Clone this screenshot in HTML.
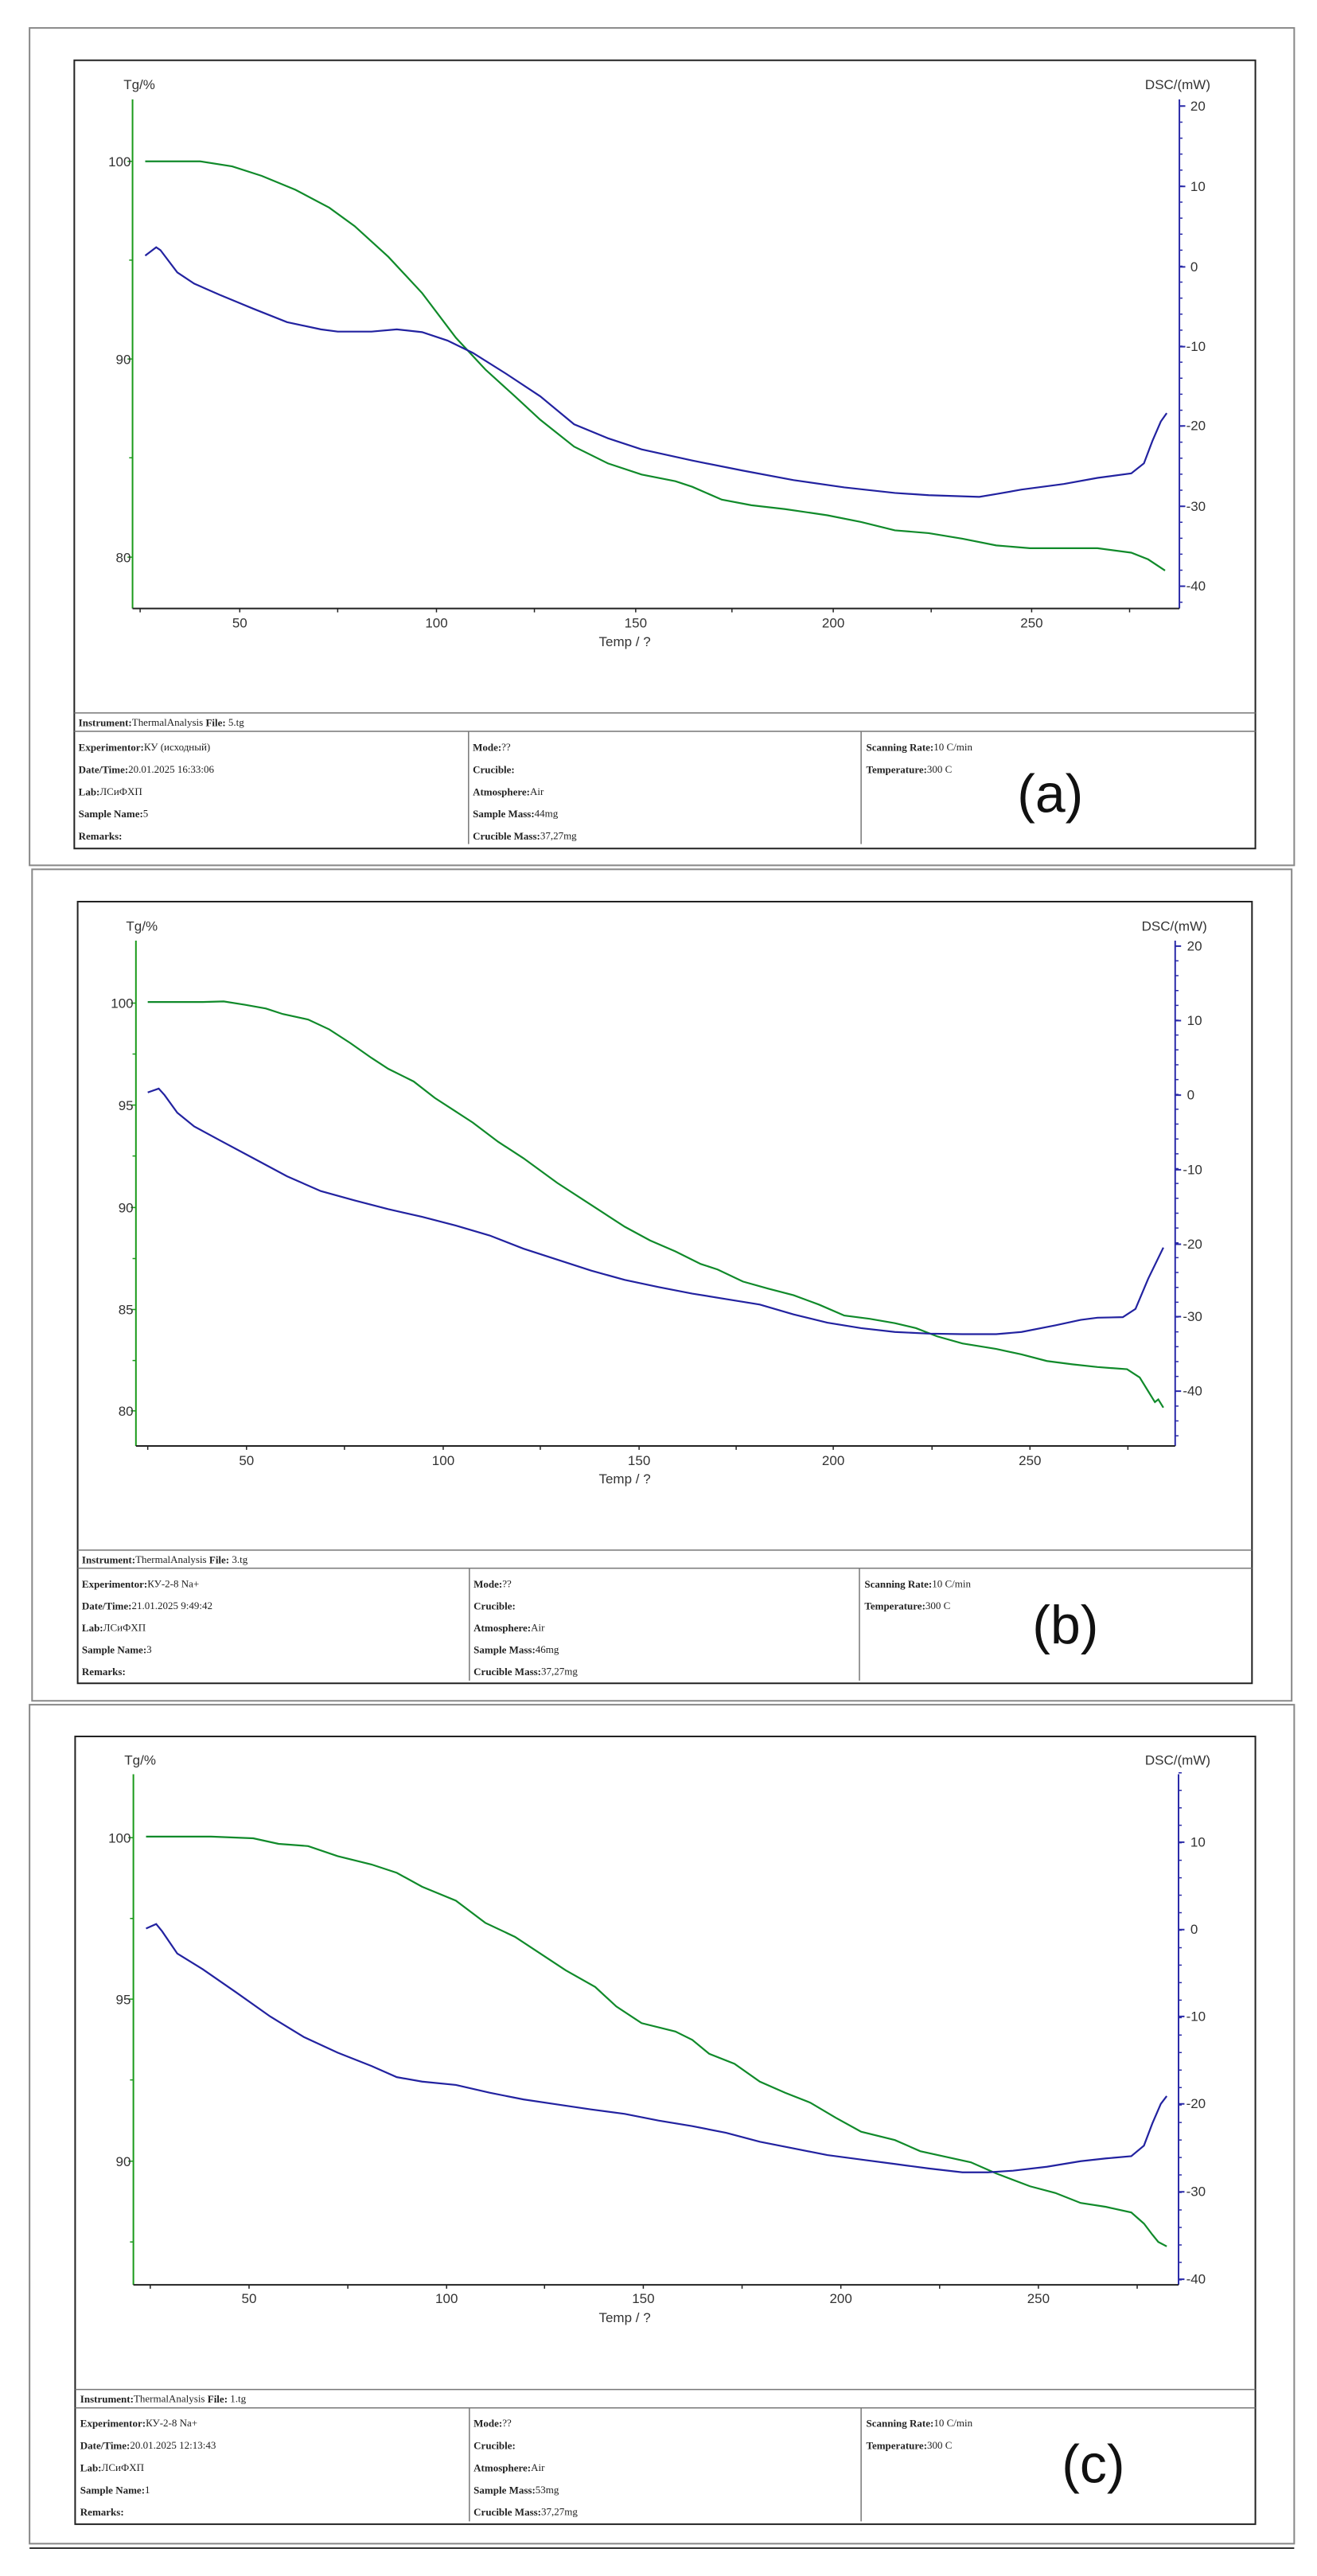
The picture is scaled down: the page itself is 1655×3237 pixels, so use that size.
<!DOCTYPE html>
<html><head><meta charset="utf-8"><style>
html,body{margin:0;padding:0;background:#fff}
svg{display:block}
.t{font-family:"Liberation Sans",sans-serif;font-size:17px;fill:#333}
.s{font-family:"Liberation Serif","Noto Serif CJK SC",serif;font-size:13px;fill:#222}
.s tspan.b{font-weight:bold}
.big{font-family:"Liberation Sans",sans-serif;font-size:68px;fill:#111}
.ns{vector-effect:non-scaling-stroke;fill:none}
</style></head><body>
<svg width="1655" height="3237" viewBox="0 0 1655 3237" xmlns="http://www.w3.org/2000/svg">
<rect width="1655" height="3237" fill="#fff"/>

<!-- ============ PANEL A ============ -->
<g transform="translate(0,0) scale(1.0609,0.7015)">
<rect x="35" y="50" width="1498" height="1500" class="ns" stroke="#888" stroke-width="2"/>
<rect x="88" y="108" width="1399" height="1412" class="ns" stroke="#222" stroke-width="2"/>
<path d="M88 1277H1487M88 1310H1487M555 1310V1512M1020 1310V1512" class="ns" stroke="#777" stroke-width="1.5"/>
<path d="M157 178V1090" class="ns" stroke="#1a9a1a" stroke-width="2"/>
<path d="M1397 178V1090" class="ns" stroke="#2a2aa8" stroke-width="2"/>
<path d="M157 1090H1397" class="ns" stroke="#222" stroke-width="2"/>
<path d="M151 289H157M153 466H157M151 643H157M153 820H157M151 998H157" class="ns" stroke="#1a9a1a" stroke-width="1.5"/>
<path d="M1397 190H1404M1397 334H1404M1397 478H1404M1397 621H1404M1397 763H1404M1397 907H1404M1397 1050H1404" class="ns" stroke="#2a2aa8" stroke-width="2"/>
<path d="M166 1090V1097M284 1090V1097M400 1090V1097M517 1090V1097M633 1090V1097M753 1090V1097M867 1090V1097M987 1090V1097M1103 1090V1097M1222 1090V1097M1338 1090V1097" class="ns" stroke="#222" stroke-width="1.5"/>
<polyline class="ns" stroke="#108a2a" stroke-width="2.2" points="172,289 237,289 275,298 310,315 350,340 390,372 420,405 460,460 500,525 540,605 575,662 610,710 640,752 680,800 720,830 760,850 800,862 820,872 855,895 890,905 930,912 980,923 1020,935 1060,950 1100,955 1140,965 1180,977 1220,982 1300,982 1340,990 1360,1002 1380,1022"/>
<polyline class="ns" stroke="#2222a0" stroke-width="2.2" points="172,458 185,443 190,448 210,488 230,508 260,528 300,553 340,577 380,590 400,594 440,594 470,590 500,595 530,610 560,632 600,670 640,710 680,760 720,785 760,805 820,825 880,843 940,860 1000,873 1060,883 1100,887 1160,890 1180,885 1210,877 1260,867 1300,856 1340,848 1355,830 1365,790 1375,755 1382,740"/>
<g class="t">
<text transform="translate(165,152) scale(0.9426,1.4255)" text-anchor="middle" dominant-baseline="central">Tg/%</text>
<text transform="translate(1395,152) scale(0.9426,1.4255)" text-anchor="middle" dominant-baseline="central">DSC/(mW)</text>
<text transform="translate(155,290) scale(0.9426,1.4255)" text-anchor="end" dominant-baseline="central">100</text>
<text transform="translate(155,644) scale(0.9426,1.4255)" text-anchor="end" dominant-baseline="central">90</text>
<text transform="translate(155,999) scale(0.9426,1.4255)" text-anchor="end" dominant-baseline="central">80</text>
<text transform="translate(1410,190) scale(0.9426,1.4255)" dominant-baseline="central">20</text>
<text transform="translate(1410,334) scale(0.9426,1.4255)" dominant-baseline="central">10</text>
<text transform="translate(1410,478) scale(0.9426,1.4255)" dominant-baseline="central">0</text>
<text transform="translate(1405,621) scale(0.9426,1.4255)" dominant-baseline="central">-10</text>
<text transform="translate(1405,763) scale(0.9426,1.4255)" dominant-baseline="central">-20</text>
<text transform="translate(1405,907) scale(0.9426,1.4255)" dominant-baseline="central">-30</text>
<text transform="translate(1405,1050) scale(0.9426,1.4255)" dominant-baseline="central">-40</text>
<text transform="translate(284,1116) scale(0.9426,1.4255)" text-anchor="middle" dominant-baseline="central">50</text>
<text transform="translate(517,1116) scale(0.9426,1.4255)" text-anchor="middle" dominant-baseline="central">100</text>
<text transform="translate(753,1116) scale(0.9426,1.4255)" text-anchor="middle" dominant-baseline="central">150</text>
<text transform="translate(987,1116) scale(0.9426,1.4255)" text-anchor="middle" dominant-baseline="central">200</text>
<text transform="translate(1222,1116) scale(0.9426,1.4255)" text-anchor="middle" dominant-baseline="central">250</text>
<text transform="translate(740,1150) scale(0.9426,1.4255)" text-anchor="middle" dominant-baseline="central">Temp / ?</text>
</g>
<g class="s">
<text transform="translate(93,1294) scale(0.9426,1.4255)" dominant-baseline="central"><tspan class="b">Instrument:</tspan>ThermalAnalysis   <tspan class="b">File:</tspan>  5.tg</text>
<text transform="translate(93,1338) scale(0.9426,1.4255)" dominant-baseline="central"><tspan class="b">Experimentor:</tspan>КУ (исходный)</text>
<text transform="translate(93,1378) scale(0.9426,1.4255)" dominant-baseline="central"><tspan class="b">Date/Time:</tspan>20.01.2025 16:33:06</text>
<text transform="translate(93,1418) scale(0.9426,1.4255)" dominant-baseline="central"><tspan class="b">Lab:</tspan>ЛСиФХП</text>
<text transform="translate(93,1457) scale(0.9426,1.4255)" dominant-baseline="central"><tspan class="b">Sample Name:</tspan>5</text>
<text transform="translate(93,1497) scale(0.9426,1.4255)" dominant-baseline="central"><tspan class="b">Remarks:</tspan></text>
<text transform="translate(560,1338) scale(0.9426,1.4255)" dominant-baseline="central"><tspan class="b">Mode:</tspan>??</text>
<text transform="translate(560,1378) scale(0.9426,1.4255)" dominant-baseline="central"><tspan class="b">Crucible:</tspan></text>
<text transform="translate(560,1418) scale(0.9426,1.4255)" dominant-baseline="central"><tspan class="b">Atmosphere:</tspan>Air</text>
<text transform="translate(560,1457) scale(0.9426,1.4255)" dominant-baseline="central"><tspan class="b">Sample Mass:</tspan>44mg</text>
<text transform="translate(560,1497) scale(0.9426,1.4255)" dominant-baseline="central"><tspan class="b">Crucible Mass:</tspan>37,27mg</text>
<text transform="translate(1026,1338) scale(0.9426,1.4255)" dominant-baseline="central"><tspan class="b">Scanning Rate:</tspan>10 C/min</text>
<text transform="translate(1026,1378) scale(0.9426,1.4255)" dominant-baseline="central"><tspan class="b">Temperature:</tspan>300 C</text>
</g>
<text class="big" transform="translate(1244,1455) scale(0.9426,1.4255)" text-anchor="middle">(a)</text>
</g>
<line x1="1484" y1="132.6" x2="1484" y2="765" stroke="#2a2aa8" stroke-width="4" stroke-dasharray="1.5 18.61"/>

<!-- ============ PANEL B ============ -->
<g transform="translate(0,1080) scale(1.0609,0.6888)">
<rect x="38" y="18" width="1492" height="1517" class="ns" stroke="#888" stroke-width="2"/>
<rect x="92" y="77" width="1391" height="1426" class="ns" stroke="#222" stroke-width="2"/>
<path d="M92 1260H1483M92 1293H1483M556 1293V1498M1018 1293V1498" class="ns" stroke="#777" stroke-width="1.5"/>
<path d="M161 148V1070" class="ns" stroke="#1a9a1a" stroke-width="2"/>
<path d="M1392 148V1070" class="ns" stroke="#2a2aa8" stroke-width="2"/>
<path d="M161 1070H1392" class="ns" stroke="#222" stroke-width="2"/>
<path d="M155 262H161M155 448H161M155 635H161M155 821H161M155 1006H161M157 355H161M157 541H161M157 728H161M157 914H161" class="ns" stroke="#1a9a1a" stroke-width="1.5"/>
<path d="M1392 158H1399M1392 294H1399M1392 430H1399M1392 566H1399M1392 702H1399M1392 834H1399M1392 970H1399" class="ns" stroke="#2a2aa8" stroke-width="2"/>
<path d="M175 1070V1077M292 1070V1077M408 1070V1077M525 1070V1077M640 1070V1077M757 1070V1077M872 1070V1077M987 1070V1077M1104 1070V1077M1220 1070V1077M1336 1070V1077" class="ns" stroke="#222" stroke-width="1.5"/>
<polyline class="ns" stroke="#108a2a" stroke-width="2.2" points="175,260 240,260 265,259 290,265 315,272 335,282 365,292 390,310 415,335 440,362 460,382 490,405 515,435 540,460 560,480 590,515 620,545 660,590 700,630 740,670 770,695 800,715 830,738 850,748 880,770 910,783 940,795 970,812 1000,832 1030,838 1060,846 1085,855 1110,870 1140,883 1180,893 1210,903 1240,915 1270,921 1300,926 1335,930 1350,945 1360,970 1368,990 1372,985 1378,1000"/>
<polyline class="ns" stroke="#2222a0" stroke-width="2.2" points="175,425 188,418 195,430 210,462 230,487 260,512 300,545 340,578 380,605 420,622 460,638 500,652 540,668 580,686 620,710 660,730 700,750 740,767 780,780 820,792 860,802 900,812 940,830 980,845 1020,855 1060,862 1100,865 1140,866 1180,866 1210,862 1250,850 1280,840 1300,836 1330,835 1345,820 1360,765 1378,708"/>
<g class="t">
<text transform="translate(168,122) scale(0.9426,1.4518)" text-anchor="middle" dominant-baseline="central">Tg/%</text>
<text transform="translate(1391,122) scale(0.9426,1.4518)" text-anchor="middle" dominant-baseline="central">DSC/(mW)</text>
<text transform="translate(158,263) scale(0.9426,1.4518)" text-anchor="end" dominant-baseline="central">100</text>
<text transform="translate(158,449) scale(0.9426,1.4518)" text-anchor="end" dominant-baseline="central">95</text>
<text transform="translate(158,636) scale(0.9426,1.4518)" text-anchor="end" dominant-baseline="central">90</text>
<text transform="translate(158,822) scale(0.9426,1.4518)" text-anchor="end" dominant-baseline="central">85</text>
<text transform="translate(158,1007) scale(0.9426,1.4518)" text-anchor="end" dominant-baseline="central">80</text>
<text transform="translate(1406,158) scale(0.9426,1.4518)" dominant-baseline="central">20</text>
<text transform="translate(1406,294) scale(0.9426,1.4518)" dominant-baseline="central">10</text>
<text transform="translate(1406,430) scale(0.9426,1.4518)" dominant-baseline="central">0</text>
<text transform="translate(1401,566) scale(0.9426,1.4518)" dominant-baseline="central">-10</text>
<text transform="translate(1401,702) scale(0.9426,1.4518)" dominant-baseline="central">-20</text>
<text transform="translate(1401,834) scale(0.9426,1.4518)" dominant-baseline="central">-30</text>
<text transform="translate(1401,970) scale(0.9426,1.4518)" dominant-baseline="central">-40</text>
<text transform="translate(292,1097) scale(0.9426,1.4518)" text-anchor="middle" dominant-baseline="central">50</text>
<text transform="translate(525,1097) scale(0.9426,1.4518)" text-anchor="middle" dominant-baseline="central">100</text>
<text transform="translate(757,1097) scale(0.9426,1.4518)" text-anchor="middle" dominant-baseline="central">150</text>
<text transform="translate(987,1097) scale(0.9426,1.4518)" text-anchor="middle" dominant-baseline="central">200</text>
<text transform="translate(1220,1097) scale(0.9426,1.4518)" text-anchor="middle" dominant-baseline="central">250</text>
<text transform="translate(740,1130) scale(0.9426,1.4518)" text-anchor="middle" dominant-baseline="central">Temp / ?</text>
</g>
<g class="s">
<text transform="translate(97,1277) scale(0.9426,1.4518)" dominant-baseline="central"><tspan class="b">Instrument:</tspan>ThermalAnalysis   <tspan class="b">File:</tspan>  3.tg</text>
<text transform="translate(97,1321) scale(0.9426,1.4518)" dominant-baseline="central"><tspan class="b">Experimentor:</tspan>КУ-2-8 Na+</text>
<text transform="translate(97,1361) scale(0.9426,1.4518)" dominant-baseline="central"><tspan class="b">Date/Time:</tspan>21.01.2025 9:49:42</text>
<text transform="translate(97,1401) scale(0.9426,1.4518)" dominant-baseline="central"><tspan class="b">Lab:</tspan>ЛСиФХП</text>
<text transform="translate(97,1441) scale(0.9426,1.4518)" dominant-baseline="central"><tspan class="b">Sample Name:</tspan>3</text>
<text transform="translate(97,1481) scale(0.9426,1.4518)" dominant-baseline="central"><tspan class="b">Remarks:</tspan></text>
<text transform="translate(561,1321) scale(0.9426,1.4518)" dominant-baseline="central"><tspan class="b">Mode:</tspan>??</text>
<text transform="translate(561,1361) scale(0.9426,1.4518)" dominant-baseline="central"><tspan class="b">Crucible:</tspan></text>
<text transform="translate(561,1401) scale(0.9426,1.4518)" dominant-baseline="central"><tspan class="b">Atmosphere:</tspan>Air</text>
<text transform="translate(561,1441) scale(0.9426,1.4518)" dominant-baseline="central"><tspan class="b">Sample Mass:</tspan>46mg</text>
<text transform="translate(561,1481) scale(0.9426,1.4518)" dominant-baseline="central"><tspan class="b">Crucible Mass:</tspan>37,27mg</text>
<text transform="translate(1024,1321) scale(0.9426,1.4518)" dominant-baseline="central"><tspan class="b">Scanning Rate:</tspan>10 C/min</text>
<text transform="translate(1024,1361) scale(0.9426,1.4518)" dominant-baseline="central"><tspan class="b">Temperature:</tspan>300 C</text>
</g>
<text class="big" transform="translate(1262,1430) scale(0.9426,1.4518)" text-anchor="middle">(b)</text>
</g>
<line x1="1479" y1="1188" x2="1479" y2="1817" stroke="#2a2aa8" stroke-width="4" stroke-dasharray="1.5 17.15"/>

<!-- ============ PANEL C ============ -->
<g transform="translate(0,2140) scale(1.0609,0.6996)">
<rect x="35" y="3" width="1498" height="1507" class="ns" stroke="#888" stroke-width="2"/>
<path d="M35 1518H1533" class="ns" stroke="#333" stroke-width="2"/>
<rect x="89" y="60" width="1398" height="1415" class="ns" stroke="#222" stroke-width="2"/>
<path d="M89 1233H1487M89 1266H1487M556 1266V1470M1020 1266V1470" class="ns" stroke="#777" stroke-width="1.5"/>
<path d="M158 128V1045" class="ns" stroke="#1a9a1a" stroke-width="2"/>
<path d="M1396 128V1045" class="ns" stroke="#2a2aa8" stroke-width="2"/>
<path d="M158 1045H1396" class="ns" stroke="#222" stroke-width="2"/>
<path d="M152 242H158M154 387H158M152 532H158M154 677H158M152 823H158M154 968H158" class="ns" stroke="#1a9a1a" stroke-width="1.5"/>
<path d="M1396 250H1403M1396 407H1403M1396 563H1403M1396 720H1403M1396 878H1403M1396 1035H1403" class="ns" stroke="#2a2aa8" stroke-width="2"/>
<path d="M178 1045V1052M295 1045V1052M412 1045V1052M529 1045V1052M645 1045V1052M762 1045V1052M879 1045V1052M996 1045V1052M1113 1045V1052M1230 1045V1052M1347 1045V1052" class="ns" stroke="#222" stroke-width="1.5"/>
<polyline class="ns" stroke="#108a2a" stroke-width="2.2" points="173,240 250,240 300,243 330,253 365,257 400,275 440,290 470,305 500,330 540,355 575,395 610,420 640,450 670,480 705,510 730,545 760,575 800,590 820,605 840,630 870,648 900,680 930,700 960,718 990,745 1020,770 1060,785 1090,805 1120,815 1150,825 1180,845 1220,868 1250,880 1280,898 1310,905 1340,915 1355,935 1365,955 1372,968 1382,976"/>
<polyline class="ns" stroke="#2222a0" stroke-width="2.2" points="173,405 185,397 192,410 210,450 240,478 280,520 320,563 360,600 400,628 440,652 470,672 500,680 540,686 580,700 620,712 660,721 700,730 740,738 780,750 820,760 860,772 900,788 940,800 980,812 1020,820 1060,828 1100,836 1140,843 1170,843 1200,840 1240,833 1280,823 1310,818 1340,814 1355,795 1365,755 1375,720 1382,706"/>
<g class="t">
<text transform="translate(166,103) scale(0.9426,1.4294)" text-anchor="middle" dominant-baseline="central">Tg/%</text>
<text transform="translate(1395,103) scale(0.9426,1.4294)" text-anchor="middle" dominant-baseline="central">DSC/(mW)</text>
<text transform="translate(155,243) scale(0.9426,1.4294)" text-anchor="end" dominant-baseline="central">100</text>
<text transform="translate(155,533) scale(0.9426,1.4294)" text-anchor="end" dominant-baseline="central">95</text>
<text transform="translate(155,824) scale(0.9426,1.4294)" text-anchor="end" dominant-baseline="central">90</text>
<text transform="translate(1410,250) scale(0.9426,1.4294)" dominant-baseline="central">10</text>
<text transform="translate(1410,407) scale(0.9426,1.4294)" dominant-baseline="central">0</text>
<text transform="translate(1405,563) scale(0.9426,1.4294)" dominant-baseline="central">-10</text>
<text transform="translate(1405,720) scale(0.9426,1.4294)" dominant-baseline="central">-20</text>
<text transform="translate(1405,878) scale(0.9426,1.4294)" dominant-baseline="central">-30</text>
<text transform="translate(1405,1035) scale(0.9426,1.4294)" dominant-baseline="central">-40</text>
<text transform="translate(295,1070) scale(0.9426,1.4294)" text-anchor="middle" dominant-baseline="central">50</text>
<text transform="translate(529,1070) scale(0.9426,1.4294)" text-anchor="middle" dominant-baseline="central">100</text>
<text transform="translate(762,1070) scale(0.9426,1.4294)" text-anchor="middle" dominant-baseline="central">150</text>
<text transform="translate(996,1070) scale(0.9426,1.4294)" text-anchor="middle" dominant-baseline="central">200</text>
<text transform="translate(1230,1070) scale(0.9426,1.4294)" text-anchor="middle" dominant-baseline="central">250</text>
<text transform="translate(740,1104) scale(0.9426,1.4294)" text-anchor="middle" dominant-baseline="central">Temp / ?</text>
</g>
<g class="s">
<text transform="translate(95,1249) scale(0.9426,1.4294)" dominant-baseline="central"><tspan class="b">Instrument:</tspan>ThermalAnalysis   <tspan class="b">File:</tspan>  1.tg</text>
<text transform="translate(95,1293) scale(0.9426,1.4294)" dominant-baseline="central"><tspan class="b">Experimentor:</tspan>КУ-2-8 Na+</text>
<text transform="translate(95,1333) scale(0.9426,1.4294)" dominant-baseline="central"><tspan class="b">Date/Time:</tspan>20.01.2025 12:13:43</text>
<text transform="translate(95,1373) scale(0.9426,1.4294)" dominant-baseline="central"><tspan class="b">Lab:</tspan>ЛСиФХП</text>
<text transform="translate(95,1413) scale(0.9426,1.4294)" dominant-baseline="central"><tspan class="b">Sample Name:</tspan>1</text>
<text transform="translate(95,1452) scale(0.9426,1.4294)" dominant-baseline="central"><tspan class="b">Remarks:</tspan></text>
<text transform="translate(561,1293) scale(0.9426,1.4294)" dominant-baseline="central"><tspan class="b">Mode:</tspan>??</text>
<text transform="translate(561,1333) scale(0.9426,1.4294)" dominant-baseline="central"><tspan class="b">Crucible:</tspan></text>
<text transform="translate(561,1373) scale(0.9426,1.4294)" dominant-baseline="central"><tspan class="b">Atmosphere:</tspan>Air</text>
<text transform="translate(561,1413) scale(0.9426,1.4294)" dominant-baseline="central"><tspan class="b">Sample Mass:</tspan>53mg</text>
<text transform="translate(561,1452) scale(0.9426,1.4294)" dominant-baseline="central"><tspan class="b">Crucible Mass:</tspan>37,27mg</text>
<text transform="translate(1026,1293) scale(0.9426,1.4294)" dominant-baseline="central"><tspan class="b">Scanning Rate:</tspan>10 C/min</text>
<text transform="translate(1026,1333) scale(0.9426,1.4294)" dominant-baseline="central"><tspan class="b">Temperature:</tspan>300 C</text>
</g>
<text class="big" transform="translate(1295,1400) scale(0.9426,1.4294)" text-anchor="middle">(c)</text>
</g>
<line x1="1483" y1="2227" x2="1483" y2="2871" stroke="#2a2aa8" stroke-width="4" stroke-dasharray="1.5 20.47"/>
</svg>
</body></html>
